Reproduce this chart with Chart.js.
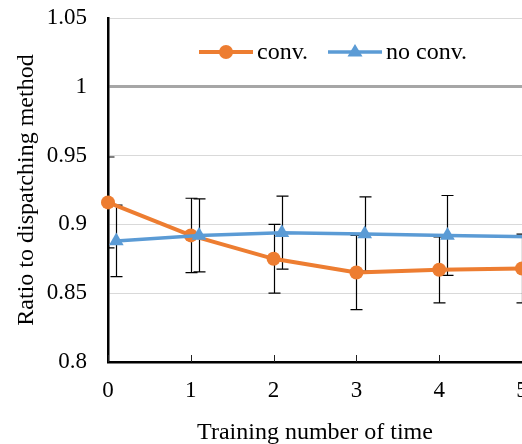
<!DOCTYPE html>
<html>
<head>
<meta charset="utf-8">
<script src="https://cdn.jsdelivr.net/npm/chart.js@4.4.0/dist/chart.umd.min.js"></script>
<style>
html, body { margin: 0; padding: 0; background: #fff; overflow: hidden; }
#wrap { width: 522px; height: 444px; overflow: hidden; }
</style>
</head>
<body>
<div id="wrap"><canvas id="chart" width="600" height="444"></canvas></div>
<script>
// values
const trainingTimes = [0, 1, 2, 3, 4, 5];
const convValues = [0.916, 0.892, 0.875, 0.865, 0.867, 0.868];
const convErrors = [0.033, 0.027, 0.025, 0.027, 0.024, 0.025];
const noConvValues = [0.888, 0.892, 0.894, 0.893, 0.892, 0.891];
const noConvErrors = [0.026, 0.0265, 0.0265, 0.027, 0.029, 0.028];
const yTickValues = [0.8, 0.85, 0.9, 0.95, 1, 1.05];
const xTickValues = [0, 1, 2, 3, 4, 5];
const seriesNames = ['conv.', 'no conv.'];
const NO_CONV_SHIFT = 0.1; // the second series sits a little right of each tick

const ORANGE = '#ED7D31';
const BLUE = '#5B9BD5';
const FONT = '"Liberation Serif", "Times New Roman", serif';

// error bars, drawn under the markers, clipped at the y axis
const errorBars = {
    id: 'errorBars',
    beforeDatasetsDraw(chart) {
        const { ctx, chartArea, scales: { x, y } } = chart;
        ctx.save();
        ctx.beginPath();
        ctx.rect(chartArea.left, 0, chart.width - chartArea.left, chart.height);
        ctx.clip();
        ctx.strokeStyle = '#000';
        ctx.lineWidth = 1.2;
        chart.data.datasets.forEach(ds => {
            ds.errors.forEach((e, i) => {
                const p = ds.data[i];
                const px = Math.round(x.getPixelForValue(p.x)) + 0.5;
                const top = y.getPixelForValue(p.y + e);
                const bot = y.getPixelForValue(p.y - e);
                ctx.beginPath();
                ctx.moveTo(px, top); ctx.lineTo(px, bot);
                ctx.moveTo(px - 6, top); ctx.lineTo(px + 6, top);
                ctx.moveTo(px - 6, bot); ctx.lineTo(px + 6, bot);
                ctx.stroke();
            });
        });
        ctx.restore();
    }
};

// small tick marks on the x axis, pointing into the plot
const innerTicks = {
    id: 'innerTicks',
    beforeDatasetsDraw(chart) {
        const { ctx, chartArea, scales: { x } } = chart;
        ctx.save();
        ctx.strokeStyle = '#222';
        ctx.lineWidth = 1;
        ctx.beginPath();
        xTickValues.forEach(v => {
            const px = Math.round(x.getPixelForValue(v)) + 0.5;
            ctx.moveTo(px, chartArea.bottom);
            ctx.lineTo(px, chartArea.bottom - 7);
        });
        ctx.stroke();
        ctx.restore();
    }
};

// legend inside the plot, line + marker like the original
const insideLegend = {
    id: 'insideLegend',
    afterDraw(chart) {
        const { ctx, chartArea } = chart;
        const ly = chartArea.top + 34;
        const items = [
            { dx: 91, color: ORANGE, width: 4, style: 'circle' },
            { dx: 220, color: BLUE, width: 3.5, style: 'triangle' }
        ];
        ctx.save();
        items.forEach((it, i) => {
            const x0 = chartArea.left + it.dx;
            ctx.strokeStyle = it.color;
            ctx.fillStyle = it.color;
            ctx.lineWidth = it.width;
            ctx.beginPath();
            ctx.moveTo(x0, ly); ctx.lineTo(x0 + 54, ly);
            ctx.stroke();
            const cx = x0 + 27;
            ctx.beginPath();
            if (it.style === 'circle') {
                ctx.arc(cx, ly, 7, 0, Math.PI * 2);
            } else {
                ctx.moveTo(cx, ly - 8);
                ctx.lineTo(cx + 7.5, ly + 4.5);
                ctx.lineTo(cx - 7.5, ly + 4.5);
                ctx.closePath();
            }
            ctx.fill();
            ctx.fillStyle = '#000';
            ctx.font = '24px ' + FONT;
            ctx.textBaseline = 'middle';
            ctx.fillText(seriesNames[i], x0 + 58, ly + 1);
        });
        ctx.restore();
    }
};

const ctx = document.getElementById('chart').getContext('2d');
new Chart(ctx, {
    type: 'line',
    data: {
        datasets: [
            {
                label: seriesNames[0],
                data: trainingTimes.map((t, i) => ({ x: t, y: convValues[i] })),
                errors: convErrors,
                borderColor: ORANGE,
                backgroundColor: ORANGE,
                borderWidth: 4,
                pointStyle: 'circle',
                pointRadius: 7,
                pointBorderWidth: 0,
                clip: false,
                order: 2
            },
            {
                label: seriesNames[1],
                data: trainingTimes.map((t, i) => ({ x: t + NO_CONV_SHIFT, y: noConvValues[i] })),
                errors: noConvErrors,
                borderColor: BLUE,
                backgroundColor: BLUE,
                borderWidth: 3.5,
                pointStyle: 'triangle',
                pointRadius: 8.5,
                pointBorderWidth: 0,
                clip: false,
                order: 1
            }
        ]
    },
    options: {
        responsive: false,
        animation: false,
        layout: { padding: { top: 18, right: 78, bottom: 0, left: 0 } },
        plugins: { legend: { display: false }, tooltip: { enabled: false } },
        scales: {
            x: {
                type: 'linear',
                min: 0,
                max: 5,
                afterBuildTicks: s => { s.ticks = xTickValues.map(v => ({ value: v })); },
                afterFit: s => { s.height = 82; },
                grid: { display: false, drawTicks: false },
                border: { display: true, color: '#000', width: 2.5 },
                ticks: { color: '#000', padding: 15, font: { family: FONT, size: 23 } },
                title: {
                    display: true,
                    text: 'Training number of time',
                    color: '#000',
                    padding: { top: 0, bottom: -3 },
                    font: { family: FONT, size: 24 }
                }
            },
            y: {
                min: 0.8,
                max: 1.05,
                afterBuildTicks: s => { s.ticks = yTickValues.map(v => ({ value: v })); },
                afterFit: s => { s.width = 108; },
                grid: {
                    drawTicks: true,
                    tickLength: 21,
                    tickColor: 'rgba(0,0,0,0)',
                    color: c => (c.tick && c.tick.value === 1 ? '#A6A6A6' : '#D9D9D9'),
                    lineWidth: c => (c.tick && c.tick.value === 1 ? 3 : 1)
                },
                border: { display: true, color: '#000', width: 2.5 },
                ticks: {
                    color: '#000',
                    padding: 0,
                    font: { family: FONT, size: 23 },
                    callback: v => String(+v.toFixed(2))
                },
                title: {
                    display: true,
                    text: 'Ratio to dispatching method',
                    color: '#000',
                    padding: { top: 12, bottom: 0 },
                    font: { family: FONT, size: 24 }
                }
            }
        }
    },
    plugins: [innerTicks, errorBars, insideLegend]
});
</script>
</body>
</html>
